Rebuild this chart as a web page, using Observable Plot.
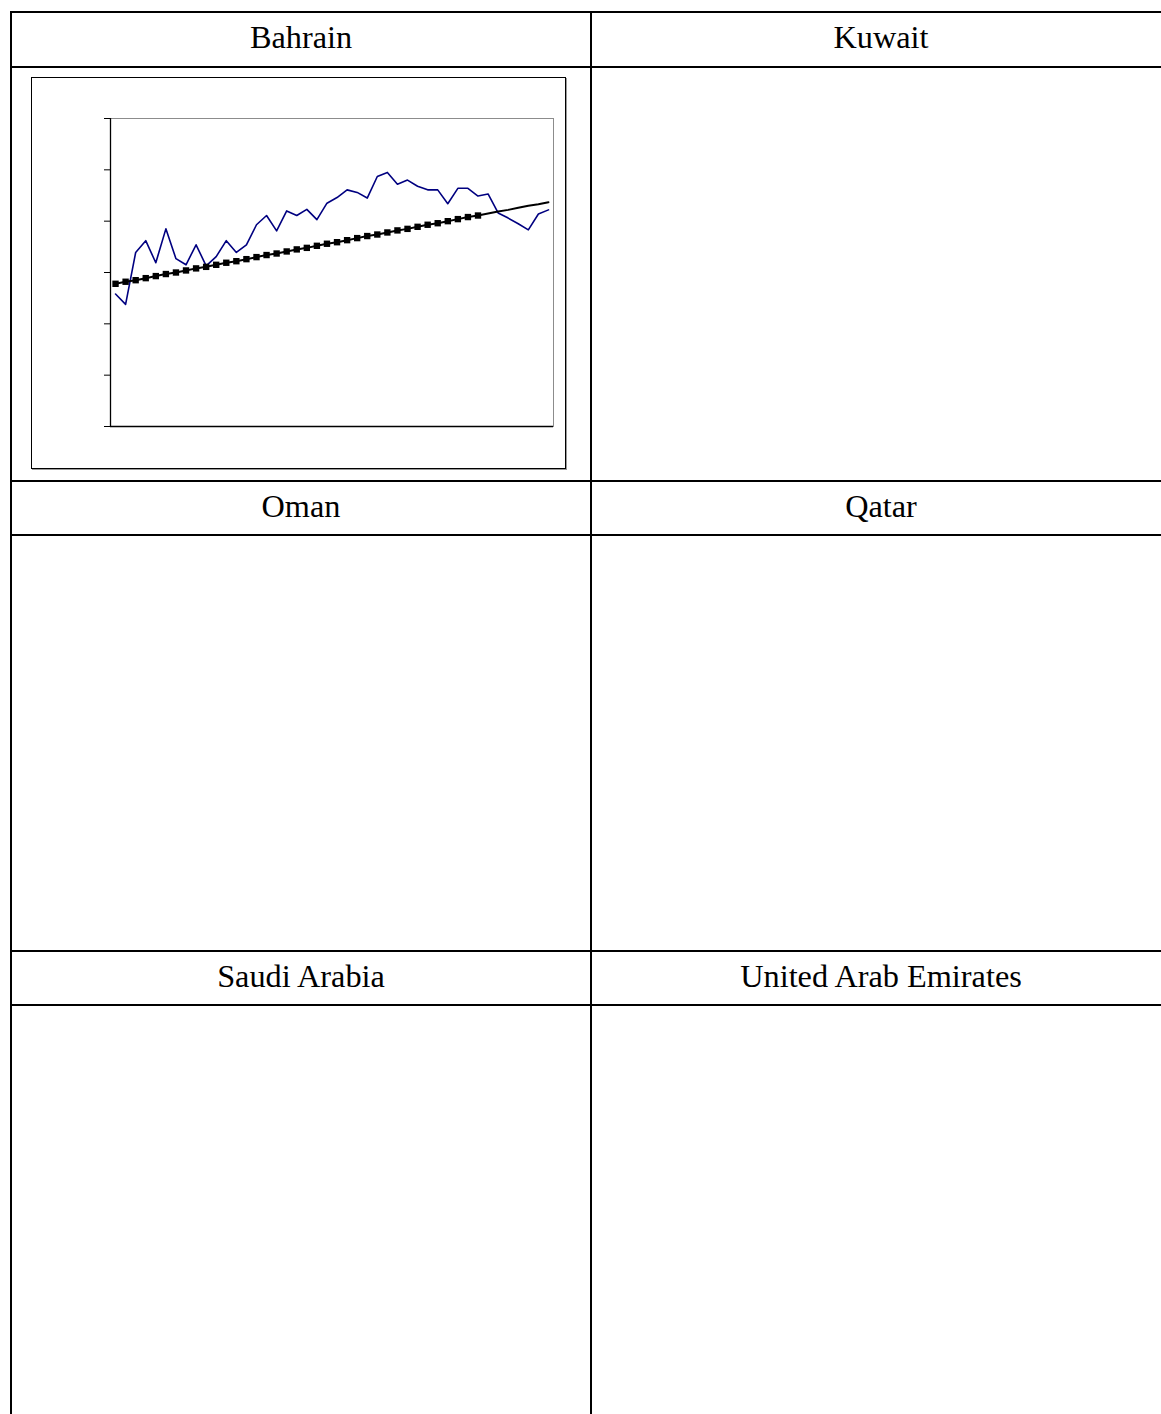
<!DOCTYPE html>
<html>
<head>
<meta charset="utf-8">
<script src="https://cdn.jsdelivr.net/npm/d3@7"></script>
<script src="https://cdn.jsdelivr.net/npm/@observablehq/plot@0.6"></script>
<style>
html, body { margin: 0; padding: 0; background: #fff; width: 1161px; height: 1414px; overflow: hidden; }
.hl { position: absolute; height: 2px; background: #000; }
.vl { position: absolute; width: 2px; background: #000; }
.hd { position: absolute; display: flex; align-items: center; justify-content: center;
      font-family: "Liberation Serif", "Times New Roman", serif; font-size: 32.3px; color: #000; white-space: nowrap; }
.hd span { position: relative; top: -2px; }
#box { position: absolute; left: 31px; top: 77px; width: 535px; height: 392px; box-sizing: border-box;
       border: 1.5px solid #000; box-shadow: 1px 1px 0 #9a9a9a; pointer-events: none; }
#chart { position: absolute; left: 31px; top: 77px; width: 535px; height: 392px; }
</style>
</head>
<body>
<div id="chart"></div>
<div id="box"></div>
<script>
// Panel titles (table headers)
const countries = ["Bahrain", "Kuwait", "Oman", "Qatar", "Saudi Arabia", "United Arab Emirates"];

// Observation periods for the Bahrain panel (no axis labels shown)
const periods = [1,2,3,4,5,6,7,8,9,10,11,12,13,14,15,16,17,18,19,20,21,22,
                 23,24,25,26,27,28,29,30,31,32,33,34,35,36,37,38,39,40,41,42,43,44];

// Actual series (blue)
const bahrainActual = [2.58, 2.38, 3.39, 3.62, 3.19, 3.85, 3.27, 3.15, 3.54, 3.13, 3.31,
                       3.62, 3.39, 3.54, 3.93, 4.11, 3.81, 4.20, 4.11, 4.23, 4.03, 4.35,
                       4.46, 4.61, 4.56, 4.45, 4.87, 4.95, 4.72, 4.80, 4.68, 4.61, 4.61,
                       4.34, 4.64, 4.64, 4.49, 4.53, 4.16, 4.06, 3.95, 3.83, 4.14, 4.22];

// Trend series (black)
const bahrainTrend = [2.78, 2.82, 2.85, 2.89, 2.93, 2.97, 3.00, 3.04, 3.08, 3.11, 3.15,
                      3.19, 3.22, 3.26, 3.30, 3.34, 3.37, 3.41, 3.45, 3.48, 3.52, 3.56,
                      3.59, 3.63, 3.67, 3.71, 3.74, 3.78, 3.82, 3.85, 3.89, 3.93, 3.96,
                      4.00, 4.04, 4.08, 4.11, 4.15, 4.19, 4.22, 4.26, 4.30, 4.33, 4.37];

// Number of periods with square markers on the trend (estimation sample)
const markedPeriods = 37;

// Y ticks (unlabelled)
const yTicks = [0, 1, 2, 3, 4, 5, 6];

// ---------- table layout ----------
const colEdges = [11, 591, 1171];
const headerRows = [[12, 67], [481, 535], [951, 1005]];
const hLines = [12, 67, 481, 535, 951, 1005];

hLines.forEach(y => {
  const d = document.createElement("div");
  d.className = "hl";
  d.style.left = (colEdges[0] - 1) + "px";
  d.style.width = (colEdges[2] - colEdges[0] + 2) + "px";
  d.style.top = (y - 1) + "px";
  document.body.appendChild(d);
});
colEdges.forEach(x => {
  const d = document.createElement("div");
  d.className = "vl";
  d.style.left = (x - 1) + "px";
  d.style.top = (hLines[0] - 1) + "px";
  d.style.height = (1500 - hLines[0]) + "px";
  document.body.appendChild(d);
});
countries.forEach((name, i) => {
  const r = Math.floor(i / 2), c = i % 2;
  const d = document.createElement("div");
  d.className = "hd";
  d.style.left = colEdges[c] + "px";
  d.style.width = (colEdges[c + 1] - colEdges[c]) + "px";
  d.style.top = headerRows[r][0] + "px";
  d.style.height = (headerRows[r][1] - headerRows[r][0]) + "px";
  const s = document.createElement("span");
  s.textContent = name;
  d.appendChild(s);
  document.body.appendChild(d);
});

// ---------- Bahrain chart ----------
const rows = periods.map((p, i) => ({period: p, actual: bahrainActual[i], trend: bahrainTrend[i]}));

const chart = Plot.plot({
  width: 535,
  height: 392,
  marginLeft: 79,
  marginRight: 13,
  marginTop: 41,
  marginBottom: 43,
  style: {background: "#fff", overflow: "visible"},
  x: {type: "linear", domain: [0.5, 44.5], axis: null},
  y: {domain: [0, 6], axis: null},
  marks: [
    Plot.frame({stroke: "#8c8c8c"}),
    Plot.ruleY([0], {stroke: "#000", strokeWidth: 1.3}),
    Plot.ruleX([0.5], {stroke: "#000", strokeWidth: 1.3}),
    Plot.axisY({ticks: yTicks, tickSize: 6, stroke: "#000", fill: "none", label: null}),
    Plot.line(rows, {x: "period", y: "actual", stroke: "#000080", strokeWidth: 1.6}),
    Plot.line(rows, {x: "period", y: "trend", stroke: "#000", strokeWidth: 2}),
    Plot.dot(rows.slice(0, markedPeriods), {x: "period", y: "trend", symbol: "square", fill: "#000", r: 3.6})
  ]
});
document.getElementById("chart").appendChild(chart);
</script>
</body>
</html>
